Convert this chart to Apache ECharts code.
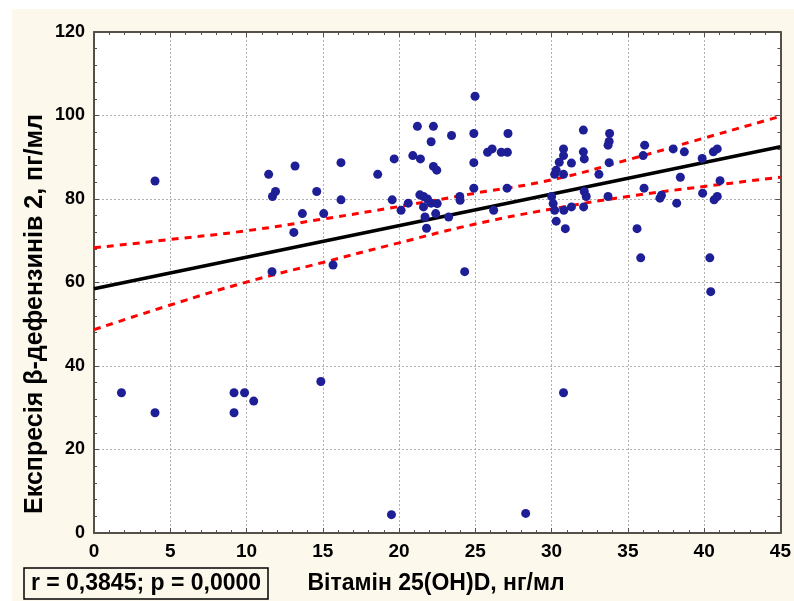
<!DOCTYPE html>
<html>
<head>
<meta charset="utf-8">
<script src="https://cdn.jsdelivr.net/npm/echarts@6/dist/echarts.min.js"></script>
<style>html,body{margin:0;padding:0;background:#fff}#c{width:794px;height:601px}</style>
</head>
<body>
<div id="c"></div>
<script>
// Vitamin 25(OH)D, ng/ml
const vitD = [4.0,11.45,13.18,11.9,11.7,14.6,13.66,15.06,13.1,11.67,
  24.98,21.2,22.25,22.1,23.44,24.9,27.14,16.19,18.6,19.68,
  20.9,21.4,22.25,22.47,24.9,25.8,26.1,26.7,27.1,16.19,
  19.55,20.13,20.6,21.36,21.6,21.86,22.1,22.5,21.6,22.4,
  21.7,23.25,21.8,23.98,24.0,24.9,26.2,27.08,15.67,24.3,
  32.08,33.8,33.77,33.7,30.78,30.78,30.5,32.08,32.14,31.3,
  30.3,30.2,30.78,33.77,33.1,36.1,36.0,37.97,38.7,39.87,
  40.6,40.86,38.44,30.0,30.1,30.2,30.3,30.9,30.8,31.3,
  32.14,32.27,32.1,33.7,36.06,37.1,37.2,38.2,39.9,40.65,
  40.86,41.04,35.6,35.84,40.37,40.43,1.8,4.0,9.18,9.87,
  9.18,10.47,14.87,19.5,30.78,28.3];
// beta-defensin 2 expression, pg/ml
const defensin = [84.3,85.9,87.9,81.8,80.6,81.8,76.5,76.5,72.0,62.6,
  104.6,97.4,97.4,93.7,95.2,95.7,95.7,88.7,85.9,89.6,
  90.4,89.6,87.8,86.9,88.7,91.2,92.0,91.2,91.2,79.8,
  79.8,77.3,79.0,81.0,80.6,80.0,79.0,78.9,78.1,76.5,
  75.7,75.7,73.0,80.6,79.7,82.6,77.3,82.6,64.2,62.6,
  96.5,95.7,93.8,92.9,92.0,90.4,88.8,91.3,89.6,88.6,
  86.9,85.9,85.9,88.7,85.9,92.9,90.4,92.0,91.3,89.7,
  91.3,92.0,85.2,80.6,78.9,77.3,74.7,72.9,77.3,78.1,
  81.8,80.6,78.1,80.6,82.6,80.2,80.9,79.0,81.4,79.8,
  80.6,84.4,72.9,65.9,65.9,57.8,33.6,28.8,33.6,33.6,
  28.8,31.6,36.3,4.4,33.6,4.7];
// regression line
const regX = [0, 45];
const regY = [58.5, 92.5];
// 95% confidence band
const bandX = [0, 5, 10, 15, 20, 25, 30, 35, 40, 45];
const bandUpper = [68.3, 70.3, 72.4, 75.2, 78.2, 81.4, 84.6, 89.4, 94.6, 99.8];
const bandLower = [48.7, 54.6, 60.1, 64.8, 69.5, 74.0, 77.6, 80.6, 83.0, 85.2];
const xTicks = {min: 0, max: 45, step: 5};
const yTicks = {min: 0, max: 120, step: 20};
const statText = 'r = 0,3845; p = 0,0000';
const xTitle = 'Вітамін 25(OH)D, нг/мл';
const yTitle = 'Експресія β-дефензинів 2, пг/мл';

const zip = (a, b) => a.map((v, i) => [v, b[i]]);
const axisCol = '#55504a';
const FONT = '"Liberation Sans", Arial, sans-serif';
const chart = echarts.init(document.getElementById('c'), null, {renderer: 'canvas'});
const baseAxis = {
  type: 'value',
  axisLine: {show: true, onZero: false, lineStyle: {color: axisCol, width: 2}},
  axisTick: {show: true, inside: true, length: 5, lineStyle: {color: axisCol, width: 1}},
  minorTick: {show: true, splitNumber: 5, length: 3, lineStyle: {color: axisCol, width: 1}},
  minorSplitLine: {show: false}
};
chart.setOption({
  animation: false,
  backgroundColor: '#fdf8ec',
  grid: {left: 94, top: 32, right: 7, bottom: 68, show: true, backgroundColor: '#ffffff', borderWidth: 0},
  graphic: [
    {type: 'rect', left: 0, top: 0, shape: {width: 794, height: 9}, style: {fill: '#ffffff'}, silent: true},
    {type: 'rect', left: 0, top: 0, shape: {width: 12, height: 601}, style: {fill: '#ffffff'}, silent: true},
    {type: 'rect', shape: {x: 24, y: 568, width: 244, height: 31}, style: {fill: 'none', stroke: '#000', lineWidth: 1.5}, silent: true},
    {type: 'text', x: 146, y: 584, style: {text: statText, fill: '#000', font: 'bold 23px ' + FONT, textAlign: 'center', textVerticalAlign: 'middle'}},
    {type: 'text', x: 436, y: 584, style: {text: xTitle, fill: '#000', font: 'bold 23px ' + FONT, textAlign: 'center', textVerticalAlign: 'middle'}},
    {type: 'text', x: 35, y: 314, rotation: Math.PI / 2, style: {text: yTitle, fill: '#000', font: 'bold 25px ' + FONT, textAlign: 'center', textVerticalAlign: 'middle'}}
  ],
  xAxis: [
    Object.assign({}, baseAxis, {
      position: 'bottom', min: xTicks.min, max: xTicks.max, interval: xTicks.step,
      axisLabel: {show: true, margin: 9, color: '#000', fontWeight: 'bold', fontSize: 19, fontFamily: FONT},
      splitLine: {show: true, lineStyle: {color: '#b0b0b0', width: 1, type: [2, 2]}}
    }),
    Object.assign({}, baseAxis, {
      position: 'top', min: xTicks.min, max: xTicks.max, interval: xTicks.step,
      axisLabel: {show: false}, splitLine: {show: false}
    })
  ],
  yAxis: [
    Object.assign({}, baseAxis, {
      position: 'left', min: yTicks.min, max: yTicks.max, interval: yTicks.step,
      axisLabel: {show: true, margin: 9, color: '#000', fontWeight: 'bold', fontSize: 18, fontFamily: FONT},
      splitLine: {show: true, lineStyle: {color: '#b0b0b0', width: 1, type: [2, 2]}}
    }),
    Object.assign({}, baseAxis, {
      position: 'right', min: yTicks.min, max: yTicks.max, interval: yTicks.step,
      axisLabel: {show: false}, splitLine: {show: false}
    })
  ],
  series: [
    {type: 'line', data: zip(bandX, bandUpper), smooth: true, symbol: 'none', z: 2,
      lineStyle: {color: '#ff0000', width: 3, type: [7, 6]}},
    {type: 'line', data: zip(bandX, bandLower), smooth: true, symbol: 'none', z: 2,
      lineStyle: {color: '#ff0000', width: 3, type: [7, 6]}},
    {type: 'line', data: zip(regX, regY), symbol: 'none', z: 3,
      lineStyle: {color: '#000000', width: 3.5}},
    {type: 'scatter', data: zip(vitD, defensin), symbol: 'circle', symbolSize: 9, z: 5,
      itemStyle: {color: '#1e1e96', opacity: 1}}
  ]
});
</script>
</body>
</html>
